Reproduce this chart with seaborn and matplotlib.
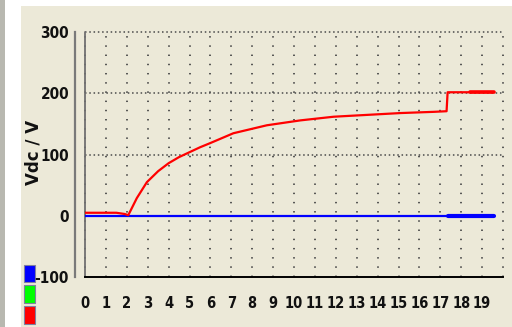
import matplotlib
matplotlib.use("Agg")
import matplotlib.pyplot as plt
from matplotlib.patches import Rectangle
from matplotlib.ticker import FixedLocator, FixedFormatter, MultipleLocator
import pandas as pd
import seaborn as sns

# DC-link voltage trace (red) and reference/zero trace (blue), time in s
t_red = [0.0, 1.5, 1.9, 2.07, 2.48, 2.96, 3.5, 4.0, 4.5, 5.0, 5.5, 6.0,
         7.1, 8.7, 10.3, 11.9, 13.5, 15.1, 16.7, 17.3, 17.35, 18.4, 19.57]
v_red = [5, 5, 3, 1, 29, 55, 73, 86, 96, 104, 112, 119,
         135, 148, 156, 162, 165, 168, 170, 171, 202, 202, 202]
# ripple section at the end of the red trace
t_red_ripple = [18.4, 19.57]
v_red_ripple = [202, 202]

t_blue = [0.0, 17.35]
v_blue = [0, 0]
t_blue_ripple = [17.35, 19.57]
v_blue_ripple = [0, 0]

x_ticks = list(range(0, 20))
x_labels = [str(v) for v in x_ticks]
y_ticks = [-100, 0, 100, 200, 300]
y_labels = ["-100", "0", "100", "200", "300"]

sns.set_style("white")
plt.rcParams["axes.unicode_minus"] = False
plt.rcParams["font.family"] = ["DejaVu Sans"]

W, H = 512, 327
fig = plt.figure(figsize=(W / 100, H / 100), dpi=100)
fig.patch.set_facecolor("white")

def px_rect(x0, y0, x1, y1, **kw):
    # rectangle given in pixel coordinates measured from the top-left corner
    fig.patches.append(Rectangle((x0 / W, 1 - y1 / H), (x1 - x0) / W, (y1 - y0) / H,
                                 transform=fig.transFigure, figure=fig, zorder=-5, **kw))

bg = "#ECE9D8"
px_rect(0, 0, 5, H, facecolor="#B8B8B0", edgecolor="none")
px_rect(21, 6, W, H, facecolor=bg, edgecolor="none")

# channel colour swatches
for (y0, y1), c in zip([(265, 282), (285, 303), (306, 324)], ["#0000FF", "#00FF00", "#FF0000"]):
    px_rect(24, y0, 35, y1, facecolor=c, edgecolor="#7F7F9F", linewidth=0.8)

left, right = 85, 503
top, bottom = 32.3, 277
ax = fig.add_axes([left / W, 1 - bottom / H, (right - left) / W, (bottom - top) / H])
ax.set_facecolor(bg)
ax.set_zorder(2)

ax.set_xlim(0, 20)
ax.set_ylim(-100, 300)

# dot grid at each integer time column
for xv in range(0, 21):
    ax.plot([xv, xv], [-100, 300], color="#4A4A4A", lw=1.3,
            dashes=(0.8, 4.3), dash_capstyle="butt", zorder=1, clip_on=False)
# dense dotted lines at the major voltage levels
for yv in [100, 200, 300]:
    ax.plot([0, 20], [yv, yv], color="#4A4A4A", lw=1.1,
            dashes=(1.0, 1.8), zorder=1, clip_on=False)

df_blue = pd.DataFrame({"t": t_blue, "v": v_blue})
df_blue_r = pd.DataFrame({"t": t_blue_ripple, "v": v_blue_ripple})
df_red = pd.DataFrame({"t": t_red, "v": v_red})
df_red_r = pd.DataFrame({"t": t_red_ripple, "v": v_red_ripple})

sns.lineplot(data=df_blue, x="t", y="v", ax=ax, color="#0000FF", lw=1.6, zorder=3)
sns.lineplot(data=df_blue_r, x="t", y="v", ax=ax, color="#0000FF", lw=3.0, zorder=3)
sns.lineplot(data=df_red, x="t", y="v", ax=ax, color="#FF0000", lw=1.6, zorder=4)
sns.lineplot(data=df_red_r, x="t", y="v", ax=ax, color="#FF0000", lw=2.6, zorder=4)

ax.set_xlabel("")
ax.set_ylabel("")

# inner frame line at t = 0
ax.plot([0, 0], [-100, 300], color="#707070", lw=1.3, zorder=2, clip_on=False)

for s in ["top", "right"]:
    ax.spines[s].set_visible(False)
ax.spines["left"].set_position(("outward", 7))
ax.spines["left"].set_color("#7A7A7A")
ax.spines["left"].set_linewidth(1.6)
ax.spines["bottom"].set_color("#000000")
ax.spines["bottom"].set_linewidth(1.4)

ax.xaxis.set_major_locator(FixedLocator(x_ticks + [20]))
ax.xaxis.set_major_formatter(FixedFormatter(x_labels + [""]))
ax.xaxis.set_minor_locator(MultipleLocator(0.5))
ax.yaxis.set_major_locator(FixedLocator(y_ticks))
ax.yaxis.set_major_formatter(FixedFormatter(y_labels))
ax.yaxis.set_minor_locator(MultipleLocator(50))

ax.tick_params(axis="x", which="both", direction="inout", length=5, width=1.0,
               color="#000000", pad=11, labelsize=10.5, labelcolor="#111111")
ax.tick_params(axis="y", which="major", direction="out", length=4, width=1.3,
               color="#555555", pad=0.5, labelsize=11, labelcolor="#111111")
ax.tick_params(axis="y", which="minor", direction="out", length=2, width=1.3, color="#555555")
for lab in ax.get_xticklabels() + ax.get_yticklabels():
    lab.set_fontweight("bold")
    lab.set_fontstretch("condensed")

fig.text(33 / W, 1 - 152 / H, "Vdc / V", rotation=90, ha="center", va="center",
         fontsize=12, fontweight="bold", color="#111111", family="DejaVu Sans")

fig.savefig("out.png", dpi=100, facecolor=fig.get_facecolor())
